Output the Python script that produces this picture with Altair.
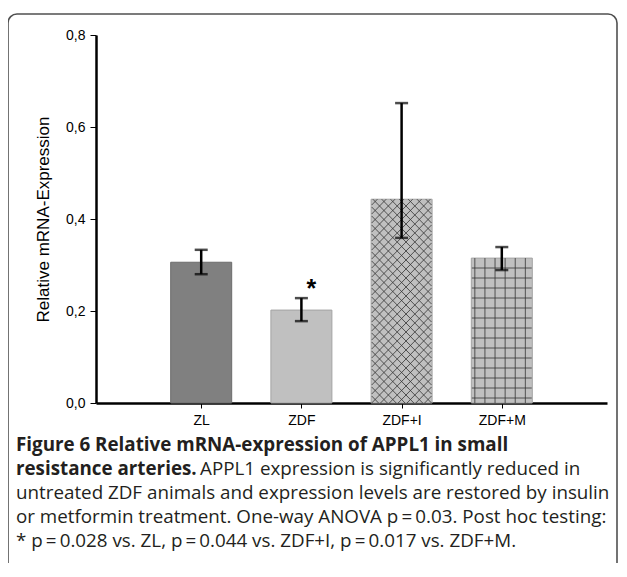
import altair as alt
import pandas as pd
import numpy as np

# ---------------- data ----------------
categories = ["ZL", "ZDF", "ZDF+I", "ZDF+M"]
means = [0.306, 0.202, 0.443, 0.315]
err_low = [0.280, 0.178, 0.359, 0.289]
err_high = [0.333, 0.228, 0.652, 0.339]
sig_marks = ["", "*", "", ""]
y_ticks = [0.0, 0.2, 0.4, 0.6, 0.8]

caption_bold_1 = "Figure 6 Relative mRNA-expression of APPL1 in small"
caption_bold_2 = "resistance arteries."
caption_rest_2 = "APPL1 expression is significantly reduced in"
caption_lines = [
    "untreated ZDF animals and expression levels are restored by insulin",
    "or metformin treatment. One-way ANOVA p\u2009=\u20090.03. Post hoc testing:",
    "* p\u2009=\u20090.028 vs. ZL, p\u2009=\u20090.044 vs. ZDF+I, p\u2009=\u20090.017 vs. ZDF+M.",
]

# ---------------- layout / style ----------------
W, H = 511, 368
XMAX, YMAX = 5, 0.8
UX, UY = W / XMAX, H / YMAX
BAR_PX = 61
FILLS = ["#808080", "#c0c0c0", "#c0c0c0", "#c0c0c0"]
STROKES = ["#6c6c6c", "#a3a3a3", "#a3a3a3", "#a3a3a3"]
AX_FONT = "Liberation Sans"
CAP_FONT = "Open Sans"
CAP_SIZE = 18.8

df = pd.DataFrame({
    "cat": categories,
    "pos": list(range(1, len(categories) + 1)),
    "mean": means,
    "lo": err_low,
    "hi": err_high,
    "sig": sig_marks,
})

# hatch geometry derived from bar values
def crosshatch(cx, top, period=9.0):
    x0 = cx * UX - BAR_PX / 2
    w = BAR_PX
    y1 = top * UY
    segs = []
    ks = np.arange(np.floor(-w / period) - 1, np.ceil(y1 / period) + 1)
    for k in ks:
        c = k * period
        tlo = max(0.0, -c)
        thi = min(w, y1 - c)
        if thi - tlo <= 0.5:
            continue
        segs.append(((x0 + tlo) / UX, (tlo + c) / UY, (x0 + thi) / UX, (thi + c) / UY))
        segs.append(((x0 + w - tlo) / UX, (tlo + c) / UY, (x0 + w - thi) / UX, (thi + c) / UY))
    return segs

def gridhatch(cx, top, step_x=10.3, off_x=3.0, step_y=10.0, off_y=5.0):
    x0 = cx * UX - BAR_PX / 2
    y1 = top * UY
    segs = []
    xs = off_x
    while xs < BAR_PX - 1:
        segs.append(((x0 + xs) / UX, 0.0, (x0 + xs) / UX, top))
        xs += step_x
    ys = off_y
    while ys < y1 - 2:
        segs.append((x0 / UX, ys / UY, (x0 + BAR_PX) / UX, ys / UY))
        ys += step_y
    return segs

hatch_rows = []
for p, m, c in zip(df["pos"], df["mean"], df["cat"]):
    if c == "ZDF+I":
        hatch_rows += crosshatch(p, m)
    elif c == "ZDF+M":
        hatch_rows += gridhatch(p, m)
hatch = pd.DataFrame(hatch_rows, columns=["xa", "ya", "xb", "yb"])

xscale = alt.Scale(domain=[0, XMAX], nice=False, zero=False)
yscale = alt.Scale(domain=[0, YMAX], nice=False)

label_expr = "[''," + ",".join("'%s'" % c for c in categories) + "][datum.value]"

XAXIS = alt.Axis(values=list(range(1, len(categories) + 1)), labelExpr=label_expr,
                 title=None, domainColor="black", domainWidth=2.5,
                 tickColor="black", tickSize=5, tickWidth=1,
                 labelFont=AX_FONT, labelFontSize=14, labelColor="black",
                 labelPadding=5, grid=False)
YAXIS = alt.Axis(values=y_ticks,
                 labelExpr="replace(format(datum.value, '.1f'), '.', ',')",
                 title="Relative mRNA-Expression", titleFont=AX_FONT,
                 titleFontSize=17, titleFontWeight="normal", titleColor="black",
                 titlePadding=13, domainColor="black", domainWidth=2.5,
                 tickColor="black", tickSize=6, tickWidth=1,
                 labelFont=AX_FONT, labelFontSize=14, labelColor="black",
                 labelPadding=5, grid=False)

def X(f):
    return alt.X(f, scale=xscale, axis=XAXIS)

def Y(f):
    return alt.Y(f, scale=yscale, axis=YAXIS)

bars = alt.Chart(df).mark_bar(size=BAR_PX, strokeWidth=1).encode(
    x=X("pos:Q"),
    y=Y("mean:Q"),
    fill=alt.Fill("cat:N", scale=alt.Scale(domain=categories, range=FILLS), legend=None),
    stroke=alt.Stroke("cat:N", scale=alt.Scale(domain=categories, range=STROKES), legend=None),
)

hatch_layer = alt.Chart(hatch).mark_rule(color="#333333", strokeWidth=0.8).encode(
    x=X("xa:Q"), y=Y("ya:Q"), x2="xb:Q", y2="yb:Q",
)

err_rule = alt.Chart(df).mark_rule(color="black", strokeWidth=2.5).encode(
    x=X("pos:Q"), y=Y("lo:Q"), y2="hi:Q",
)
cap_hi = alt.Chart(df).mark_tick(orient="horizontal", size=13, thickness=2.5, color="black").encode(
    x=X("pos:Q"), y=Y("hi:Q"),
)
cap_lo = alt.Chart(df).mark_tick(orient="horizontal", size=13, thickness=2.5, color="black").encode(
    x=X("pos:Q"), y=Y("lo:Q"),
)
sig = alt.Chart(df).mark_text(font=AX_FONT, fontSize=25, fontWeight="bold", color="black",
                              dx=10, dy=-1, baseline="alphabetic").encode(
    x=X("pos:Q"), y=Y("hi:Q"), text="sig:N",
)

one = pd.DataFrame({"k": [0]})
frame = alt.Chart(one).mark_rect(fill="white", fillOpacity=0, stroke="#505050",
                                 strokeWidth=1.6, cornerRadius=9).encode(
    x=alt.value(-88), x2=alt.value(521), y=alt.value(-21), y2=alt.value(600),
)

CAP_X = -80
BASE0 = 416
STEP = 24
def cap_text(txt, x, y, bold=False):
    return alt.Chart(one).mark_text(text=txt, font=CAP_FONT, fontSize=CAP_SIZE,
                                    fontWeight="bold" if bold else "normal",
                                    align="left", baseline="alphabetic",
                                    color="#231f20").encode(x=alt.value(x), y=alt.value(y))

texts = [
    cap_text(caption_bold_1, CAP_X, BASE0, True),
    cap_text(caption_bold_2, CAP_X, BASE0 + STEP, True),
    cap_text(caption_rest_2, 104, BASE0 + STEP),
]
for i, line in enumerate(caption_lines):
    texts.append(cap_text(line, CAP_X, BASE0 + STEP * (i + 2)))

chart = alt.layer(frame, bars, hatch_layer, err_rule, cap_hi, cap_lo, sig, *texts).properties(
    width=W, height=H,
    padding={"left": 88, "top": 27, "right": 12, "bottom": 160},
    autosize=alt.AutoSizeParams(type="none"),
    background="white",
).configure_view(stroke=None)

chart.save("out.html", embed_options={"renderer": "svg", "actions": False})
